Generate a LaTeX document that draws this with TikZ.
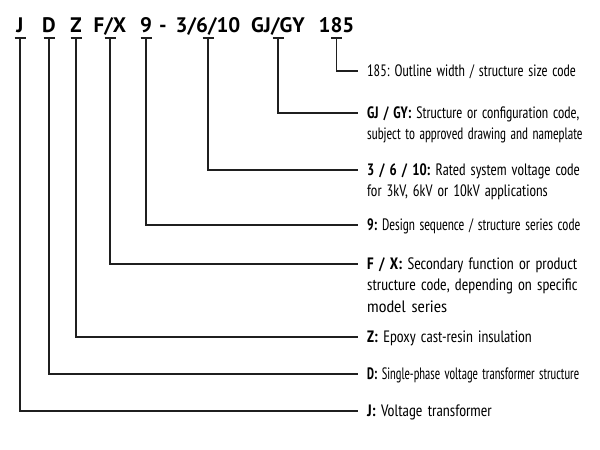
\documentclass[tikz,border=0pt]{standalone}
\usepackage{fontspec}
\setmainfont{PT Sans Narrow}
\newfontfamily\codefont{PT Sans}
\newcommand{\ds}[2]{\scalebox{#1}[1]{#2}}
\begin{document}
\frenchspacing
\begin{tikzpicture}[x=1pt,y=-1pt,
  code/.style={font=\codefont\fontsize{21}{21}\selectfont\bfseries, inner sep=0pt, anchor=base},
  desc/.style={font=\frenchspacing\fontsize{16.5}{21.5}\selectfont, anchor=base west, inner xsep=9pt, inner ysep=0pt, text width=300pt, align=left},
  conn/.style={draw=black!88, line width=1.1pt},
  tick/.style={draw=black!88, line width=1.1pt}]
\useasboundingbox[fill=white] (0,0) rectangle (600,450);
% codes
\node[code] (cJ) at (20,32) {J};
\node[code] (cD) at (49,32) {D};
\node[code] (cZ) at (76,32) {Z};
\node[code] (cF) at (110,32) {F/X};
\node[code] (c9) at (146,32) {9};
\node[code] (cdash) at (163,32) {-};
\node[code] (cV) at (208,32) {3/6/10};
\node[code] (cG) at (278,32) {GJ/GY};
\node[code] (c185) at (336.5,32) {185};
% ticks
\foreach \n in {cJ,cD,cZ,cF,c9,cV,cG,c185}{
  \draw[tick] ([yshift=-6pt]\n.base) ++(-5.5,0) -- ++(11,0);
}
% descriptions
\node[desc] (t185) at (358,76) {\ds{0.88}{185: Outline width / structure size code}};
\node[desc] (tG) at (358,118) {\ds{0.88}{\textbf{GJ / GY:} Structure or configuration code,}\\ \ds{0.83}{subject to approved drawing and nameplate}};
\node[desc] (tV) at (358,175) {\ds{0.915}{\textbf{3 / 6 / 10:} Rated system voltage code}\\ \ds{0.915}{for 3kV, 6kV or 10kV applications}};
\node[desc] (t9) at (358,230) {\ds{0.845}{\textbf{9:} Design sequence / structure series code}};
\node[desc] (tF) at (358,269) {\ds{0.96}{\textbf{F / X:} Secondary function or product}\\ \ds{0.96}{structure code, depending on specific}\\ \ds{1.08}{model series}};
\node[desc] (tZ) at (358,342) {\ds{0.95}{\textbf{Z:} Epoxy cast-resin insulation}};
\node[desc] (tD) at (358,379) {\ds{0.79}{\textbf{D:} Single-phase voltage transformer structure}};
\node[desc] (tJ) at (358,416) {\ds{0.965}{\textbf{J:} Voltage transformer}};
% connectors
\foreach \c/\t in {cJ/tJ,cD/tD,cZ/tZ,cF/tF,c9/t9,cV/tV,cG/tG,c185/t185}{
  \draw[conn] ([yshift=-6pt]\c.base) |- ([yshift=5pt]\t.base west);
}
\end{tikzpicture}
\end{document}
